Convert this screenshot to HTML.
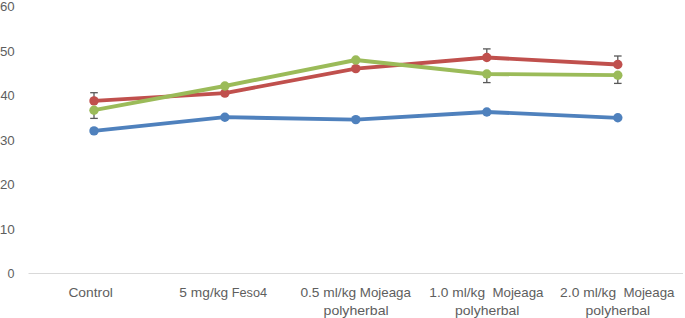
<!DOCTYPE html>
<html><head><meta charset="utf-8"><title>Chart</title>
<style>
html,body{margin:0;padding:0;background:#fff;}
body{width:685px;height:318px;overflow:hidden;}
svg{display:block;}
text{font-family:"Liberation Sans",sans-serif;fill:#5e5e5e;}
</style></head><body>
<svg width="685" height="318" viewBox="0 0 685 318">
<rect width="685" height="318" fill="#fff"/>
<line x1="28.5" y1="273.5" x2="683" y2="273.5" stroke="#D9D9D9" stroke-width="1"/>
<text x="68.4" y="297.40" textLength="44.49" lengthAdjust="spacingAndGlyphs" font-size="13.4">Control</text>
<text x="179.36" y="297.40" textLength="48.86" lengthAdjust="spacingAndGlyphs" font-size="13.4">5 mg/kg</text>
<text x="231.78" y="297.40" textLength="35.27" lengthAdjust="spacingAndGlyphs" font-size="13.4">Feso4</text>
<text x="300.42" y="297.40" textLength="55.76" lengthAdjust="spacingAndGlyphs" font-size="13.4">0.5 ml/kg</text>
<text x="359.8" y="297.40" textLength="51.16" lengthAdjust="spacingAndGlyphs" font-size="13.4">Mojeaga</text>
<text x="323.57" y="315.00" textLength="65.05" lengthAdjust="spacingAndGlyphs" font-size="13.4">polyherbal</text>
<text x="429.27" y="297.40" textLength="55.78" lengthAdjust="spacingAndGlyphs" font-size="13.4">1.0 ml/kg</text>
<text x="492.42" y="297.40" textLength="51.07" lengthAdjust="spacingAndGlyphs" font-size="13.4">Mojeaga</text>
<text x="455.0" y="315.00" textLength="64.48" lengthAdjust="spacingAndGlyphs" font-size="13.4">polyherbal</text>
<text x="560.13" y="297.40" textLength="56.0" lengthAdjust="spacingAndGlyphs" font-size="13.4">2.0 ml/kg</text>
<text x="623.42" y="297.40" textLength="51.07" lengthAdjust="spacingAndGlyphs" font-size="13.4">Mojeaga</text>
<text x="585.53" y="315.00" textLength="64.66" lengthAdjust="spacingAndGlyphs" font-size="13.4">polyherbal</text>
<text x="0.0" y="11.05" textLength="14.7" lengthAdjust="spacingAndGlyphs" font-size="13.0">60</text>
<text x="-0.11" y="55.57" textLength="14.82" lengthAdjust="spacingAndGlyphs" font-size="13.0">50</text>
<text x="0.53" y="100.09" textLength="14.19" lengthAdjust="spacingAndGlyphs" font-size="13.0">40</text>
<text x="-0.1" y="144.61" textLength="14.81" lengthAdjust="spacingAndGlyphs" font-size="13.0">30</text>
<text x="0.0" y="189.13" textLength="14.7" lengthAdjust="spacingAndGlyphs" font-size="13.0">20</text>
<text x="-0.29" y="233.65" textLength="15.1" lengthAdjust="spacingAndGlyphs" font-size="13.0">10</text>
<text x="7.42" y="278.17" textLength="6.97" lengthAdjust="spacingAndGlyphs" font-size="13.0">0</text>
<g stroke="#595959" stroke-width="1.3" fill="none"><line x1="94.0" y1="92.7" x2="94.0" y2="100.9"/><line x1="90.2" y1="92.7" x2="97.8" y2="92.7"/><line x1="94.0" y1="110.2" x2="94.0" y2="118.4"/><line x1="90.2" y1="118.4" x2="97.8" y2="118.4"/><line x1="486.8" y1="48.9" x2="486.8" y2="57.4"/><line x1="483.0" y1="48.9" x2="490.6" y2="48.9"/><line x1="486.8" y1="74.0" x2="486.8" y2="82.6"/><line x1="483.0" y1="82.6" x2="490.6" y2="82.6"/><line x1="617.8" y1="56.0" x2="617.8" y2="64.4"/><line x1="614.0" y1="56.0" x2="621.6" y2="56.0"/><line x1="617.8" y1="75.1" x2="617.8" y2="83.4"/><line x1="614.0" y1="83.4" x2="621.6" y2="83.4"/></g>
<polyline points="94.0,130.9 224.9,117.2 355.8,119.6 486.8,112.0 617.8,117.8" fill="none" stroke="#4F81BD" stroke-width="3.85" stroke-linejoin="round" stroke-linecap="round"/>
<circle cx="94.0" cy="130.9" r="4.7" fill="#4F81BD"/><circle cx="224.9" cy="117.2" r="4.7" fill="#4F81BD"/><circle cx="355.8" cy="119.6" r="4.7" fill="#4F81BD"/><circle cx="486.8" cy="112.0" r="4.7" fill="#4F81BD"/><circle cx="617.8" cy="117.8" r="4.7" fill="#4F81BD"/>
<polyline points="94.0,100.9 224.9,93.1 355.8,68.6 486.8,57.5 617.8,64.5" fill="none" stroke="#C0504D" stroke-width="3.85" stroke-linejoin="round" stroke-linecap="round"/>
<circle cx="94.0" cy="100.9" r="4.7" fill="#C0504D"/><circle cx="224.9" cy="93.1" r="4.7" fill="#C0504D"/><circle cx="355.8" cy="68.6" r="4.7" fill="#C0504D"/><circle cx="486.8" cy="57.5" r="4.7" fill="#C0504D"/><circle cx="617.8" cy="64.5" r="4.7" fill="#C0504D"/>
<polyline points="94.0,110.2 224.9,86.0 355.8,60.0 486.8,74.0 617.8,75.2" fill="none" stroke="#9BBB59" stroke-width="3.85" stroke-linejoin="round" stroke-linecap="round"/>
<circle cx="94.0" cy="110.2" r="4.7" fill="#9BBB59"/><circle cx="224.9" cy="86.0" r="4.7" fill="#9BBB59"/><circle cx="355.8" cy="60.0" r="4.7" fill="#9BBB59"/><circle cx="486.8" cy="74.0" r="4.7" fill="#9BBB59"/><circle cx="617.8" cy="75.2" r="4.7" fill="#9BBB59"/>
</svg>
</body></html>
